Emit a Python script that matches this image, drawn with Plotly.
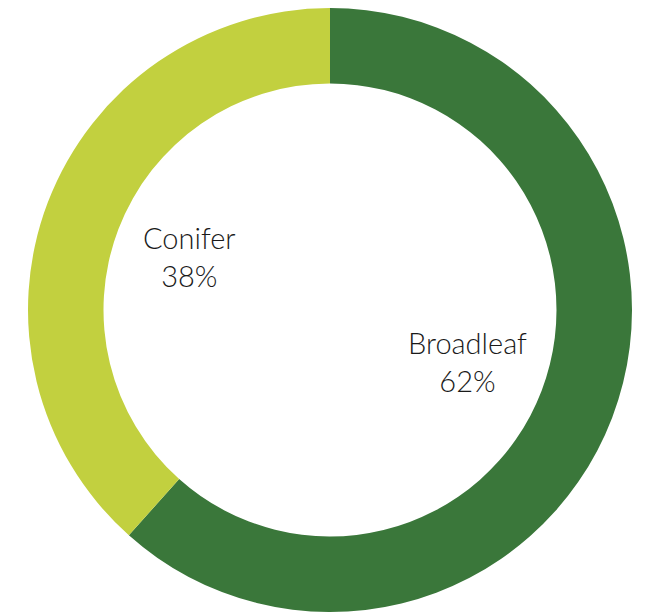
import plotly.graph_objects as go

labels = ["Broadleaf", "Conifer"]
values = [61.6, 38.4]
colors = ["#3a773a", "#c2d03f"]

fig = go.Figure(go.Pie(
    labels=labels,
    values=values,
    hole=0.75,
    sort=False,
    direction="clockwise",
    rotation=0,
    marker=dict(colors=colors, line=dict(width=0)),
    textinfo="none",
    hoverinfo="label+percent",
    showlegend=False,
))

# labels sit inside the hole
label_pos = {"Broadleaf": (0.727, 0.414), "Conifer": (0.268, 0.588)}
for name, v in zip(labels, values):
    x, y = label_pos[name]
    fig.add_annotation(
        x=x, y=y, xref="paper", yref="paper",
        xanchor="center", yanchor="middle",
        text=f"{name}<br>{round(v)}%",
        showarrow=False,
        font=dict(family="Lato, sans-serif", size=29, color="#1a1a1a", weight=300),
    )

fig.update_layout(
    width=650,
    height=613,
    margin=dict(l=20, r=26, t=0, b=9),
    paper_bgcolor="white",
    plot_bgcolor="white",
)

fig.write_html("out.html")
